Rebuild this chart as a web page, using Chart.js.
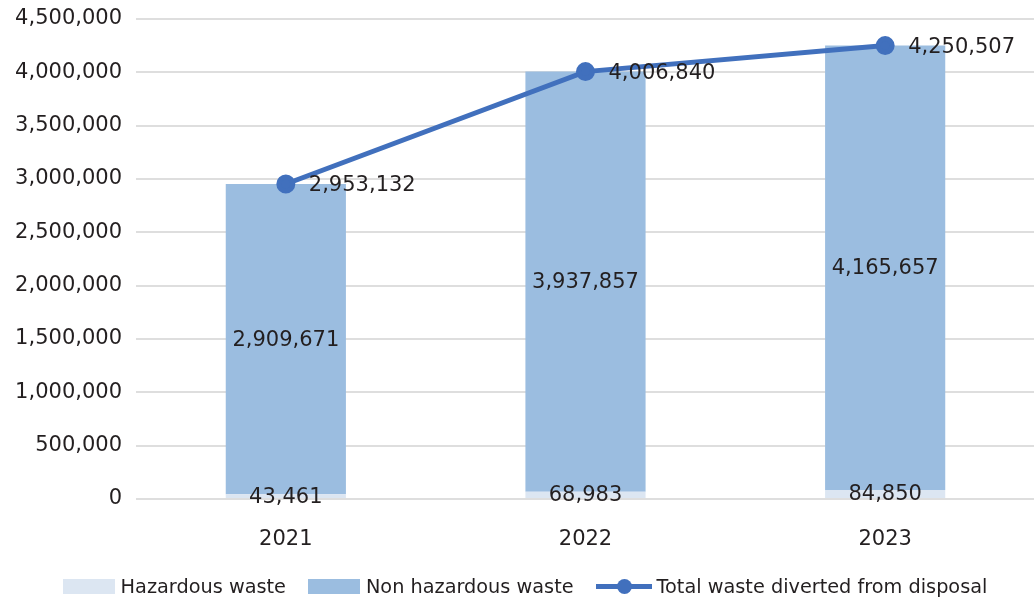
<!DOCTYPE html>
<html>
<head>
<meta charset="utf-8">
<script src="https://cdn.jsdelivr.net/npm/chart.js@4"></script>
<style>
  body { margin: 0; background: #fff; font-family: "DejaVu Sans", sans-serif; }
  #wrap { position: relative; width: 1034px; height: 600px; overflow: hidden; }
  #wasteChart { position: absolute; left: 0; top: 0; }
  #legend {
    position: absolute; left: 8px; top: 574px; width: 1034px; height: 24px;
    display: flex; justify-content: center; align-items: center;
    font-size: 19.3px; color: #231f20;
  }
  .item { display: flex; align-items: center; margin: 0 11px; }
  .box { width: 52px; height: 15px; margin-right: 6px; }
  .lineMark { position: relative; width: 56px; height: 15px; margin-right: 5px; }
  .lineMark::before { content: ""; position: absolute; left: 0; right: 0; top: 5px; height: 5px; background: #4170bd; }
  .lineMark::after { content: ""; position: absolute; left: 21px; top: 0; width: 15px; height: 15px; border-radius: 50%; background: #4170bd; }
</style>
</head>
<body>
<div id="wrap">
  <!-- a bit wider than the window: chart.js keeps ~12px on the right that the original does not have -->
  <canvas id="wasteChart" width="1047" height="600"></canvas>
  <div id="legend">
    <div class="item"><span class="box" style="background:#dce6f2"></span>Hazardous waste</div>
    <div class="item"><span class="box" style="background:#9bbde0"></span>Non hazardous waste</div>
    <div class="item"><span class="lineMark"></span>Total waste diverted from disposal</div>
  </div>
</div>
<script>
// DATA
const years = ["2021", "2022", "2023"];
const hazardous = [43461, 68983, 84850];
const nonHazardous = [2909671, 3937857, 4165657];
const totalDiverted = [2953132, 4006840, 4250507];

const textColor = "#231f20";
const fontFamily = "'DejaVu Sans', sans-serif";

const fmt = (v) => v.toLocaleString("en-US");

// simple data labels, no plugin available offline
const valueLabels = {
  id: "valueLabels",
  afterDatasetsDraw(chart) {
    const ctx = chart.ctx;
    ctx.save();
    ctx.font = "21px " + fontFamily;
    ctx.fillStyle = textColor;
    chart.data.datasets.forEach((ds, i) => {
      const meta = chart.getDatasetMeta(i);
      meta.data.forEach((el, j) => {
        const txt = fmt(ds.data[j]);
        if (ds.type === "line") {
          ctx.textAlign = "left";
          ctx.textBaseline = "middle";
          ctx.fillText(txt, el.x + 23, el.y + 2);
        } else {
          ctx.textAlign = "center";
          ctx.textBaseline = "middle";
          ctx.fillText(txt, el.x, (el.y + el.base) / 2 + 1);
        }
      });
    });
    ctx.restore();
  },
};

new Chart(document.getElementById("wasteChart"), {
  data: {
    labels: years,
    datasets: [
      {
        type: "line",
        label: "Total waste diverted from disposal",
        data: totalDiverted,
        borderColor: "#4170bd",
        backgroundColor: "#4170bd",
        borderWidth: 5,
        pointRadius: 7,
        pointHoverRadius: 7,
        stack: "total",
        order: 0,
      },
      {
        type: "bar",
        label: "Hazardous waste",
        data: hazardous,
        backgroundColor: "#dce6f2",
        stack: "waste",
        order: 1,
        categoryPercentage: 1,
        barPercentage: 0.401,
      },
      {
        type: "bar",
        label: "Non hazardous waste",
        data: nonHazardous,
        backgroundColor: "#9bbde0",
        stack: "waste",
        order: 1,
        categoryPercentage: 1,
        barPercentage: 0.401,
      },
    ],
  },
  options: {
    responsive: false,
    animation: false,
    layout: { padding: { top: 19, right: 0, bottom: 0, left: 0 } },
    plugins: {
      legend: { display: false },
      tooltip: { enabled: false },
    },
    scales: {
      x: {
        stacked: true,
        grid: { display: false },
        border: { display: false },
        ticks: { color: textColor, font: { family: fontFamily, size: 21 }, padding: 20 },
        afterFit(scale) {
          scale.height = 101;
          scale.paddingLeft = 0;
          scale.paddingRight = 0;
        },
      },
      y: {
        stacked: true,
        min: 0,
        max: 4500000,
        grid: { color: "#dedede", lineWidth: 2, drawTicks: false },
        border: { display: false },
        ticks: {
          stepSize: 500000,
          color: textColor,
          font: { family: fontFamily, size: 21 },
          padding: 14,
          callback: (v) => fmt(v),
        },
        afterFit(scale) {
          scale.width = 136;
          scale.paddingTop = 0;
          scale.paddingBottom = 0;
        },
      },
    },
  },
  plugins: [valueLabels],
});
</script>
</body>
</html>
